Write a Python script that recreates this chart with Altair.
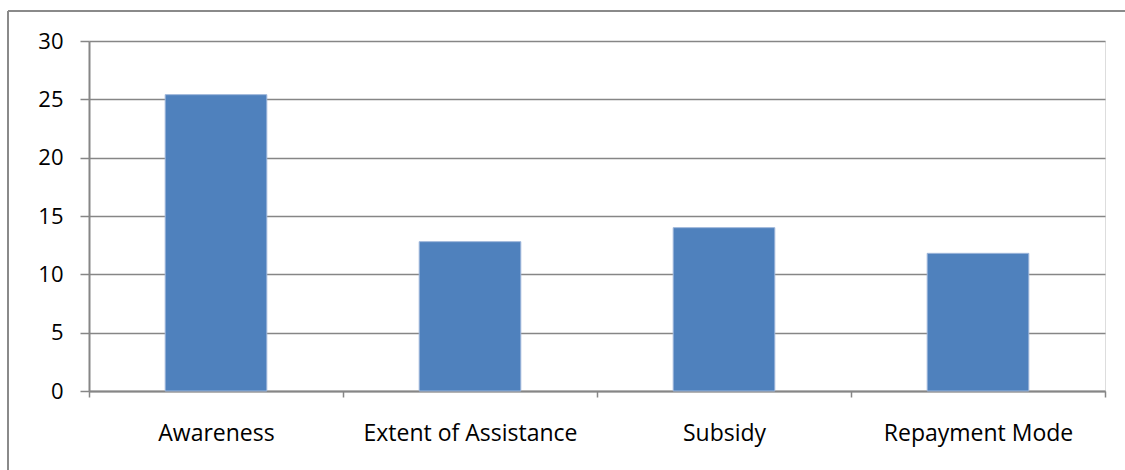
import altair as alt
import pandas as pd

# Scores per category
categories = ["Awareness", "Extent of Assistance", "Subsidy", "Repayment Mode"]
values = [25.4, 12.8, 14.0, 11.8]
y_ticks = [0, 5, 10, 15, 20, 25, 30]

df = pd.DataFrame({"category": categories, "value": values})

GRID = "#868686"
FONT = "Open Sans"
W, H = 1016, 350

bars = alt.Chart(df).mark_bar(
    color="#4F81BD", stroke="#9DB6DA", strokeWidth=1,
    width=alt.RelativeBandSize(0.4),
).encode(
    x=alt.X(
        "category:N",
        sort=categories,
        title=None,
        scale=alt.Scale(paddingInner=0, paddingOuter=0),
        axis=alt.Axis(
            labelAngle=0,
            tickBand="extent",
            tickSize=6,
            tickColor=GRID,
            tickWidth=1.5,
            domainColor=GRID,
            domainWidth=2,
            labelFont=FONT,
            labelFontSize=23,
            labelColor="#000000",
            labelPadding=25,
            labelLimit=0,
            grid=False,
        ),
    ),
    y=alt.Y(
        "value:Q",
        title=None,
        scale=alt.Scale(domain=[0, 30], nice=False),
        axis=alt.Axis(
            values=y_ticks,
            tickSize=9,
            tickColor=GRID,
            tickWidth=1.5,
            domainColor=GRID,
            domainWidth=2,
            gridColor=GRID,
            gridWidth=1.5,
            labelFont=FONT,
            labelFontSize=22,
            labelColor="#000000",
            labelPadding=17,
        ),
    ),
)

# Outer frame around the chart (top and left edges)
frame_top = alt.Chart(df).mark_rule(color="#8A8A8A", strokeWidth=2).encode(
    x=alt.value(-81), x2=alt.value(W + 30), y=alt.value(-30)
)
frame_left = alt.Chart(df).mark_rule(color="#8A8A8A", strokeWidth=2).encode(
    x=alt.value(-81), y=alt.value(-30), y2=alt.value(H + 90)
)

chart = alt.layer(bars, frame_top, frame_left).properties(
    width=W,
    height=H,
    autosize=alt.AutoSizeParams(type="none"),
    padding={"left": 89, "top": 41, "right": 20, "bottom": 79},
).configure_view(stroke=None).configure(background="white")

chart.save("out.html", embed_options={"renderer": "svg", "actions": False})
